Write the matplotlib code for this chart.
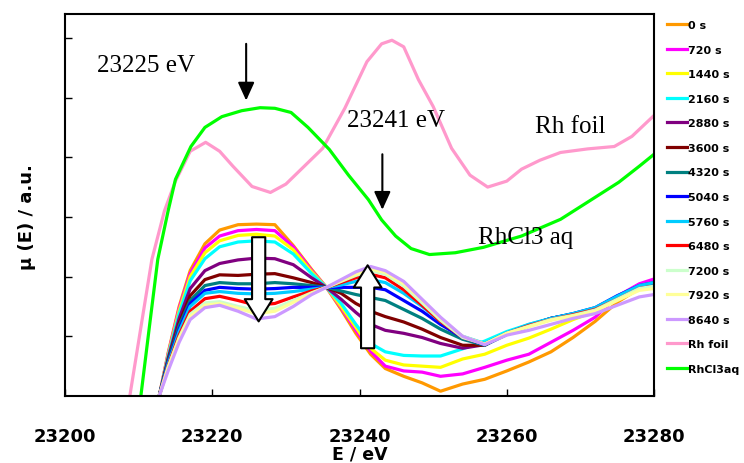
import matplotlib
matplotlib.use('Agg')
from matplotlib import pyplot as plt

# energy grid of the time-resolved spectra (eV)
E = [23212.8, 23214, 23215.5, 23217, 23219, 23221, 23223.5, 23226, 23228.5, 23231,
     23233.5, 23235.5, 23237.5, 23239.5, 23241.5, 23243.5, 23246, 23248.5, 23251, 23254,
     23257, 23260, 23263, 23266, 23269, 23272, 23275, 23278, 23280]

s0 = [0, 0.72, 1.5, 2.1, 2.55, 2.78, 2.87, 2.88, 2.87, 2.52, 2.12, 1.82, 1.45, 1.05, 0.70,
      0.46, 0.33, 0.22, 0.08, 0.2, 0.28, 0.42, 0.57, 0.74, 0.98, 1.25, 1.57, 1.8, 1.9]
s720 = [0, 0.7, 1.47, 2.05, 2.48, 2.68, 2.77, 2.79, 2.77, 2.5, 2.1, 1.82, 1.48, 1.1, 0.75,
        0.5, 0.42, 0.4, 0.33, 0.37, 0.48, 0.6, 0.7, 0.9, 1.1, 1.32, 1.67, 1.88, 1.96]
s1440 = [0, 0.68, 1.43, 2.0, 2.4, 2.6, 2.69, 2.71, 2.68, 2.45, 2.08, 1.82, 1.5, 1.15, 0.8,
         0.6, 0.52, 0.5, 0.48, 0.62, 0.7, 0.85, 0.97, 1.12, 1.28, 1.42, 1.62, 1.84, 1.9]
s2160 = [0, 0.66, 1.38, 1.93, 2.3, 2.5, 2.58, 2.6, 2.58, 2.38, 2.05, 1.82, 1.55, 1.2, 0.88,
         0.74, 0.68, 0.67, 0.67, 0.79, 0.92, 1.08, 1.2, 1.3, 1.38, 1.47, 1.65, 1.83, 1.88]
s2880 = [0, 0.63, 1.3, 1.8, 2.1, 2.22, 2.28, 2.31, 2.3, 2.2, 1.98, 1.82, 1.62, 1.4, 1.2,
         1.1, 1.05, 0.98, 0.88, 0.8, 0.86, 1.05, 1.18, 1.3, 1.37, 1.47, 1.65, 1.82, 1.88]
s3600 = [0, 0.6, 1.22, 1.68, 1.95, 2.03, 2.02, 2.04, 2.05, 1.98, 1.9, 1.82, 1.72, 1.55, 1.42,
         1.33, 1.24, 1.12, 0.98, 0.85, 0.85, 1.05, 1.18, 1.3, 1.37, 1.47, 1.65, 1.82, 1.88]
s4320 = [0, 0.58, 1.18, 1.6, 1.85, 1.9, 1.88, 1.88, 1.9, 1.88, 1.85, 1.82, 1.76, 1.7, 1.65,
         1.6, 1.45, 1.3, 1.12, 0.95, 0.85, 1.03, 1.17, 1.3, 1.37, 1.47, 1.66, 1.83, 1.88]
s5040 = [0, 0.55, 1.12, 1.55, 1.77, 1.82, 1.8, 1.79, 1.8, 1.82, 1.82, 1.82, 1.82, 1.82, 1.82,
         1.78, 1.6, 1.42, 1.2, 0.98, 0.86, 1.04, 1.18, 1.3, 1.38, 1.48, 1.68, 1.85, 1.9]
s5760 = [0, 0.53, 1.08, 1.5, 1.72, 1.75, 1.72, 1.71, 1.72, 1.75, 1.79, 1.82, 1.86, 1.92, 1.95,
         1.9, 1.72, 1.5, 1.25, 1.0, 0.88, 1.06, 1.2, 1.3, 1.38, 1.48, 1.67, 1.85, 1.9]
s6480 = [0, 0.5, 1.02, 1.42, 1.63, 1.67, 1.6, 1.52, 1.55, 1.66, 1.76, 1.82, 1.9, 1.98, 2.04,
         1.98, 1.78, 1.52, 1.25, 0.98, 0.87, 1.05, 1.18, 1.28, 1.36, 1.45, 1.62, 1.8, 1.84]
s7200 = [0, 0.48, 0.98, 1.37, 1.56, 1.58, 1.5, 1.43, 1.47, 1.6, 1.73, 1.82, 1.92, 2.02, 2.1,
         2.04, 1.84, 1.56, 1.27, 0.98, 0.87, 1.05, 1.17, 1.28, 1.35, 1.44, 1.62, 1.8, 1.84]
s7920 = [0, 0.47, 0.96, 1.33, 1.52, 1.55, 1.47, 1.38, 1.42, 1.57, 1.72, 1.82, 1.93, 2.04, 2.13,
         2.07, 1.88, 1.6, 1.3, 1.0, 0.87, 1.05, 1.16, 1.27, 1.34, 1.42, 1.6, 1.77, 1.8]
s8640 = [0, 0.42, 0.9, 1.28, 1.48, 1.52, 1.42, 1.29, 1.33, 1.5, 1.7, 1.82, 1.95, 2.08, 2.17,
         2.1, 1.92, 1.62, 1.32, 1.0, 0.86, 1.02, 1.1, 1.2, 1.3, 1.38, 1.52, 1.66, 1.7]

series = [s0, s720, s1440, s2160, s2880, s3600, s4320, s5040, s5760, s6480, s7200, s7920, s8640]
labels = ['0 s', '720 s', '1440 s', '2160 s', '2880 s', '3600 s', '4320 s', '5040 s',
          '5760 s', '6480 s', '7200 s', '7920 s', '8640 s']
colors = ['#FF9900', '#FF00FF', '#FFFF00', '#00FFFF', '#800080', '#800000', '#008080',
          '#0000FF', '#00CCFF', '#FF0000', '#CCFFCC', '#FFFF99', '#CC99FF']

# reference spectra
E_foil = [23208.8, 23210.5, 23211.8, 23213.5, 23215, 23217, 23219.1, 23221, 23222.8, 23225.4,
          23227.9, 23230, 23232.5, 23235, 23238, 23241, 23243, 23244.4, 23246, 23248, 23250,
          23252.5, 23255, 23257.4, 23260, 23262, 23264.5, 23267.3, 23271, 23274.6, 23277, 23280]
foil = [0, 1.3, 2.29, 3.1, 3.6, 4.1, 4.25, 4.1, 3.85, 3.51, 3.41, 3.55, 3.85, 4.15, 4.82,
        5.6, 5.9, 5.96, 5.85, 5.3, 4.85, 4.15, 3.7, 3.5, 3.6, 3.8, 3.95, 4.08, 4.14, 4.18, 4.35, 4.7]
E_aq = [23210.3, 23211.5, 23212.6, 23214, 23215, 23217.1, 23219, 23221.3, 23224, 23226.5,
        23228.5, 23230.7, 23233, 23235.9, 23238.5, 23241.2, 23243, 23244.9, 23247, 23249.5,
        23253, 23256.8, 23262, 23267.3, 23271, 23275.2, 23278, 23280]
aq = [0, 1.2, 2.29, 3.1, 3.63, 4.18, 4.5, 4.68, 4.78, 4.83, 4.82, 4.75, 4.5, 4.13, 3.7, 3.29,
      2.95, 2.68, 2.47, 2.37, 2.4, 2.49, 2.68, 2.96, 3.25, 3.58, 3.85, 4.05]

fig = plt.figure(figsize=(7.44, 4.64), dpi=100)
ax = fig.add_axes([0.0874, 0.1444, 0.7917, 0.8233])

handles = []
for y, lab, c in zip(series, labels, colors):
    h, = ax.plot(E, y, color=c, lw=2.3, label=lab)
    handles.append(h)
h, = ax.plot(E_foil, foil, color='#FF99CC', lw=2.3, label='Rh foil')
handles.append(h)
h, = ax.plot(E_aq, aq, color='#00FF00', lw=2.3, label='RhCl3aq')
handles.append(h)

ax.set_xlim(23200, 23280)
ax.set_ylim(0, 6.4)
ax.set_xticks([23200, 23220, 23240, 23260, 23280])
ax.set_yticks([1, 2, 3, 4, 5, 6])
ax.set_yticklabels([])
ax.tick_params(axis='both', direction='in', length=5, width=1, top=False, right=False)
ax.tick_params(axis='x', pad=22, labelsize=13)
for lab in ax.get_xticklabels():
    lab.set_fontweight('bold')
for sp in ax.spines.values():
    sp.set_linewidth(1.5)

ax.set_xlabel('E / eV', fontsize=12.5, fontweight='bold', labelpad=0)
ax.set_ylabel('μ (E) / a.u.', fontsize=13, fontweight='bold')
ax.yaxis.set_label_coords(-0.05, 0.47)

# peak annotations
serif = 'Liberation Serif'
ax.text(23204.3, 5.55, '23225 eV', fontsize=18, family=serif, va='center')
ax.text(23238.3, 4.62, '23241 eV', fontsize=18, family=serif, va='center')
ax.text(23263.8, 4.52, 'Rh foil', fontsize=18, family=serif, va='center')
ax.text(23256.1, 2.67, 'RhCl3 aq', fontsize=18, family=serif, va='center')
thin = dict(arrowstyle='-|>,head_length=0.55,head_width=0.25', color='black', lw=1.5,
            shrinkA=0, shrinkB=0, mutation_scale=20)
ax.annotate('', xy=(23224.6, 4.95), xytext=(23224.6, 5.9), arrowprops=thin)
ax.annotate('', xy=(23243.1, 3.12), xytext=(23243.1, 4.05), arrowprops=thin)

# hollow arrows showing the change with time
hollow = dict(arrowstyle='simple,head_length=1.6,head_width=2.0,tail_width=0.95',
              fc='white', ec='black', lw=1.5, shrinkA=0, shrinkB=0, mutation_scale=10)
ax.annotate('', xy=(23226.3, 1.25), xytext=(23226.3, 2.66), arrowprops=hollow)
ax.annotate('', xy=(23241.1, 2.19), xytext=(23241.1, 0.80), arrowprops=hollow)

fig.legend(handles=handles, loc='upper left', bbox_to_anchor=(0.890, 0.964), frameon=False,
           prop={'size': 8, 'weight': 'bold'}, handlelength=1.8, handletextpad=0.15,
           labelspacing=1.31, borderaxespad=0)

fig.savefig('out.png', dpi=100)
